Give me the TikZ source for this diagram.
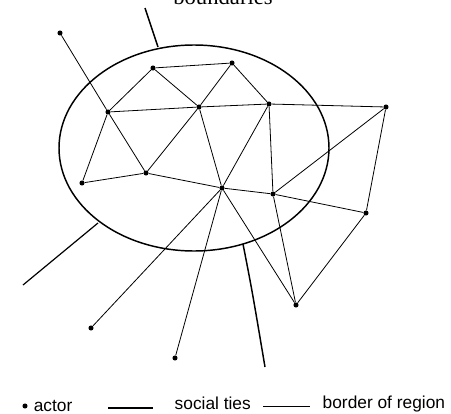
\documentclass[tikz,border=0pt]{standalone}
\usepackage{fontspec}
\setmainfont{Liberation Serif}
\newfontfamily\legendfont{Liberation Sans}
\usetikzlibrary{positioning, calc}

\begin{document}
\begin{tikzpicture}[x=0.75pt, y=-0.75pt,
    actor/.style={circle, fill=black, inner sep=0pt, minimum size=3.8pt},
    tie/.style={draw=black, line width=0.6pt},
    region/.style={draw=black, line width=1.1pt},
    legend/.style={font=\legendfont\fontsize{13}{13}\selectfont}]
  \useasboundingbox (0,0) rectangle (451,414);
  % label at the top, cut by the page edge
  \node[font=\fontsize{17}{17}\selectfont, anchor=base] (lab) at (223,4) {boundaries};
  % region border
  \draw[region] (194,148) ellipse [x radius=135, y radius=103];
  \coordinate (bt) at (158,47);
  \coordinate (bl) at (98,223);
  \coordinate (bb) at (243,244);
  \coordinate (et) at (145,8);
  \coordinate (el) at (23,285);
  \coordinate (eb) at (265,367);
  \draw[region] (et) -- (bt);
  \draw[region, line width=0.9pt] (el) -- (bl);
  \draw[region] (bb) .. controls (252,290) .. (eb);
  % actors
  \node[actor] (a) at (60,33) {};
  \node[actor] (b) at (108,112) {};
  \node[actor] (c) at (153,68) {};
  \node[actor] (d) at (232,63) {};
  \node[actor] (e) at (199,107) {};
  \node[actor] (f) at (269,104) {};
  \node[actor] (g) at (386,107) {};
  \node[actor] (h) at (82,183) {};
  \node[actor] (i) at (146,173) {};
  \node[actor] (j) at (222,188) {};
  \node[actor] (k) at (273,194) {};
  \node[actor] (l) at (366,213) {};
  \node[actor] (m) at (296,305) {};
  \node[actor] (n) at (91,328) {};
  \node[actor] (o) at (175,358) {};
  % social ties
  \foreach \u/\v in {a/b, b/c, c/d, c/e, d/e, d/f, b/e, e/f, f/g, b/h, b/i, h/i,
                     i/e, i/j, e/j, f/j, f/k, j/k, k/l, k/g, g/l, l/m, k/m, j/m,
                     j/n, j/o}
    \draw[tie] (\u) -- (\v);
  % legend
  \node[actor] (ka) at (25,406) {};
  \node[right=1pt of ka, legend] (ta) {actor};
  \coordinate (l1a) at (108,408);
  \coordinate (l1b) at (153,408);
  \draw[line width=1.1pt] (l1a) -- (l1b);
  \node[anchor=west, legend] (tt) at (170,403) {social ties};
  \coordinate (l2a) at (263,406);
  \coordinate (l2b) at (310,406);
  \draw[line width=0.6pt] (l2a) -- (l2b);
  \node[anchor=west, legend] (tr) at (318,404) {border of region};
\end{tikzpicture}
\end{document}
